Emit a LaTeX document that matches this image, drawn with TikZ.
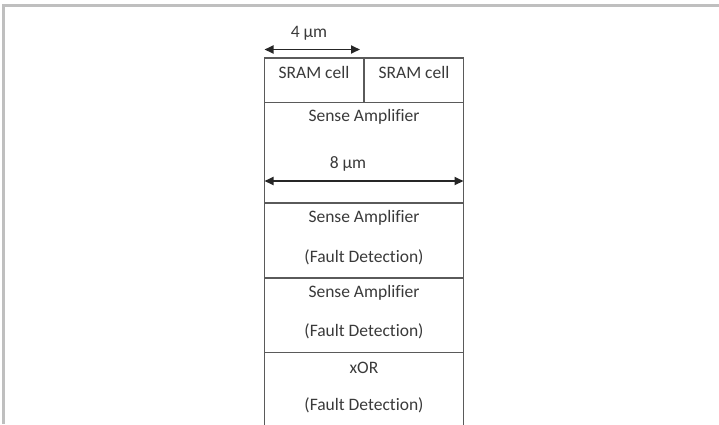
\documentclass[tikz,border=0pt]{standalone}
\usepackage{fontspec}
\setmainfont{Carlito}[Ligatures=NoCommon]
\usetikzlibrary{arrows.meta}
\definecolor{framegray}{HTML}{BFBFBF}
\definecolor{linegray}{HTML}{5A5A5A}
\definecolor{textgray}{HTML}{3A3A3A}
\tikzset{
  cell/.style={draw=linegray, line width=1.4pt},
  lbl/.style={text=textgray, font=\fontsize{17.5}{20}\selectfont, inner sep=0pt},
  dim/.style={{Triangle[length=9pt,width=8pt]}-{Triangle[length=9pt,width=8pt]}, line width=1.8pt, draw=black!85}
}
\begin{document}
\begin{tikzpicture}[x=1pt,y=-1pt]
  \useasboundingbox (0,0) rectangle (719,424);
  \clip (0,0) rectangle (719,424);
  % page frame
  \draw[framegray, line width=3pt] (2,5.3) -- (719,5.3);
  \draw[framegray, line width=3pt] (3.5,4) -- (3.5,424);
  % cells
  \coordinate (tl) at (264.5,58);
  \coordinate (br) at (463.5,445);
  \draw[cell] (tl) rectangle (br);
  \draw[cell] (364,58) -- (364,102.5);
  \draw[cell] (264.5,102.5) -- (463.5,102.5);
  \draw[cell] (264.5,203) -- (463.5,203);
  \draw[cell] (264.5,278) -- (463.5,278);
  \draw[cell] (264.5,352.5) -- (463.5,352.5);
  % dimensions
  \coordinate (w4a) at (264.5,49.5);
  \coordinate (w4b) at (360,49.5);
  \coordinate (w8a) at (264.5,181);
  \coordinate (w8b) at (463.5,181);
  \draw[dim] (w4a) -- (w4b);
  \draw[dim] (w8a) -- (w8b);
  \node[lbl] (w4) at (309,33) {4 µm};
  \node[lbl] (w8) at (348,164) {8 µm};
  % labels
  \node[lbl] (sram1) at (314,72.5) {SRAM cell};
  \node[lbl] (sram2) at (414,72.5) {SRAM cell};
  \node[lbl] (sa) at (364,116.5) {Sense Amplifier};
  \node[lbl] (sa1) at (364,218) {Sense Amplifier};
  \node[lbl] (fd1) at (364,257) {(Fault Detection)};
  \node[lbl] (sa2) at (364,293) {Sense Amplifier};
  \node[lbl] (fd2) at (364,331.5) {(Fault Detection)};
  \node[lbl] (xor) at (364,368) {xOR};
  \node[lbl] (fd3) at (364,405) {(Fault Detection)};
\end{tikzpicture}
\end{document}
